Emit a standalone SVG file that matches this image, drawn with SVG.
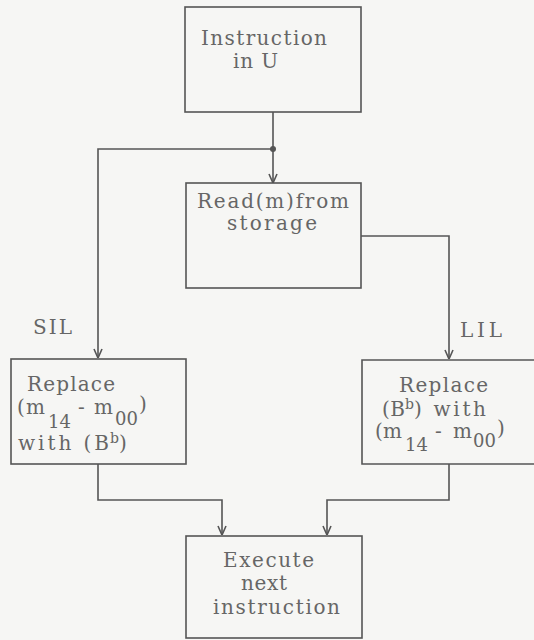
<svg xmlns="http://www.w3.org/2000/svg" width="534" height="640" viewBox="0 0 534 640">
<style>
.box{fill:none;stroke:#555;stroke-width:1.6}
.ln{fill:none;stroke:#555;stroke-width:1.6}
text{font-family:"DejaVu Serif","Liberation Serif",serif;font-size:20px;fill:#666}
.sub{font-size:18px}
.sup{font-size:14px}
</style>
<defs>
<marker id="arr" viewBox="0 0 10 10" refX="10" refY="5" markerWidth="10" markerHeight="10" markerUnits="userSpaceOnUse" orient="auto">
<path d="M1,1 L10,5 L1,9" fill="none" stroke="#555" stroke-width="1.6"/>
</marker>
</defs>
<rect width="534" height="640" fill="#f6f6f4"/>
<g id="connectors">
<path class="ln" d="M273,112 V183" marker-end="url(#arr)"/>
<path class="ln" d="M273,149 H98 V358" marker-end="url(#arr)"/>
<circle cx="273" cy="149" r="3" fill="#555"/>
<path class="ln" d="M361,236 H449 V359" marker-end="url(#arr)"/>
<path class="ln" d="M98,464 V500 H222 V535" marker-end="url(#arr)"/>
<path class="ln" d="M449,464 V500 H327 V535" marker-end="url(#arr)"/>
<text x="33" y="334" textLength="39" lengthAdjust="spacing">SIL</text>
<text x="460" y="337" textLength="42" lengthAdjust="spacing">LIL</text>
</g>
<g id="instruction">
<rect class="box" x="185" y="7" width="176" height="105"/>
<text x="201" y="45" textLength="126" lengthAdjust="spacing">Instruction</text>
<text x="233" y="68" textLength="45" lengthAdjust="spacing">in U</text>
</g>
<g id="read">
<rect class="box" x="186" y="183" width="175" height="105"/>
<text x="197" y="208" textLength="152" lengthAdjust="spacing">Read(m)from</text>
<text x="227" y="230" textLength="90" lengthAdjust="spacing">storage</text>
</g>
<g id="sil">
<rect class="box" x="11" y="359" width="175" height="105"/>
<text x="27" y="391" textLength="88" lengthAdjust="spacing">Replace</text>
<text x="17" y="414" textLength="28" lengthAdjust="spacing">(m</text>
<text class="sub" x="48" y="428">14</text>
<text x="78" y="414" textLength="35" lengthAdjust="spacing">- m</text>
<text class="sub" x="115" y="425">00</text>
<text x="139" y="411">)</text>
<text x="18" y="450" textLength="91" lengthAdjust="spacing">with (B</text>
<text class="sup" x="110" y="443">b</text>
<text x="119" y="450">)</text>
</g>
<g id="lil">
<path class="box" d="M536,360 H362 V464 H536"/>
<text x="399" y="392" textLength="89" lengthAdjust="spacing">Replace</text>
<text x="382" y="416" textLength="23" lengthAdjust="spacing">(B</text>
<text class="sup" x="405" y="409">b</text>
<text x="414" y="416" textLength="72" lengthAdjust="spacing">) with</text>
<text x="375" y="438" textLength="27" lengthAdjust="spacing">(m</text>
<text class="sub" x="405" y="451">14</text>
<text x="435" y="438" textLength="37" lengthAdjust="spacing">- m</text>
<text class="sub" x="473" y="447">00</text>
<text x="497" y="435">)</text>
</g>
<g id="execute">
<rect class="box" x="186" y="536" width="176" height="102"/>
<text x="223" y="567" textLength="91" lengthAdjust="spacing">Execute</text>
<text x="241" y="590" textLength="46" lengthAdjust="spacing">next</text>
<text x="213" y="614" textLength="127" lengthAdjust="spacing">instruction</text>
</g>
</svg>
